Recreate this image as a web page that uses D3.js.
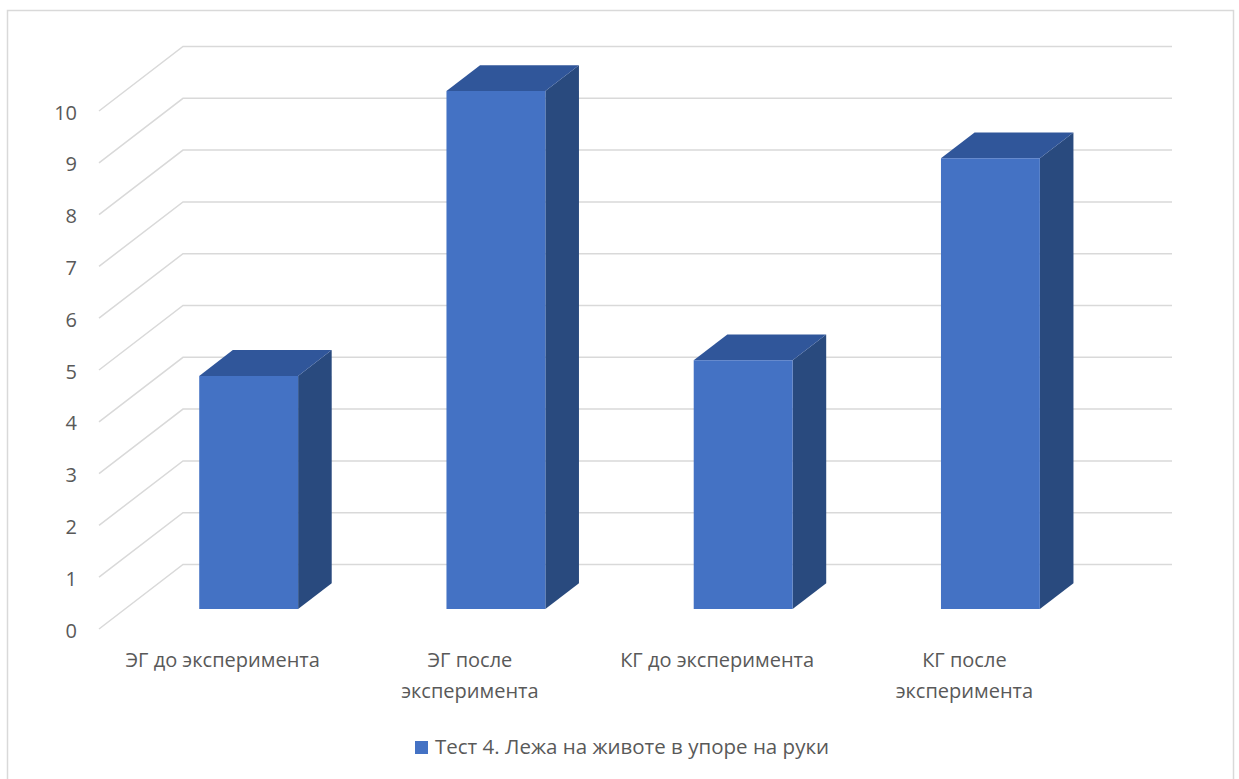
<!DOCTYPE html>
<html><head><meta charset="utf-8">
<script src="https://cdn.jsdelivr.net/npm/d3@7"></script>
<style>
html,body{margin:0;padding:0;background:#fff;}
svg{display:block;font-family:"Open Sans","Noto Sans",sans-serif;}
</style></head>
<body>
<script>
const categories = ["ЭГ до эксперимента","ЭГ после эксперимента","КГ до эксперимента","КГ после эксперимента"];
const categoryLines = [["ЭГ до эксперимента"],["ЭГ после","эксперимента"],["КГ до эксперимента"],["КГ после","эксперимента"]];
const values = [4.5, 10, 4.8, 8.7];
const yTicks = [0,1,2,3,4,5,6,7,8,9,10];
const seriesName = "Тест 4. Лежа на животе в упоре на руки";

const W = 1239, H = 779;
const svg = d3.select("body").append("svg").attr("width", W).attr("height", H);

svg.append("rect").attr("x",7.5).attr("y",10.5).attr("width",1226).attr("height",780)
  .attr("fill","#fff").attr("stroke","#D9D9D9").attr("stroke-width",1.5);

const DX = 84, DY = 64.5;
const y = d3.scaleLinear().domain([0,10]).range([629,111]);
const x = d3.scaleBand().domain(categories).range([99,1088]).paddingInner(0.6).paddingOuter(0.3);
const P = (px, v, d) => [px + d*DX, y(v) - d*DY];

// gridlines
const grid = svg.append("g");
yTicks.forEach(t => {
  const a = P(99, t, 0), b = P(99, t, 1), c = [1172, b[1]];
  grid.append("path").attr("d", d3.line()([a,b,c]))
    .attr("fill","none").attr("stroke","#D9D9D9").attr("stroke-width",1.5);
});

// y axis labels
const ax = svg.append("g").attr("transform","translate(82,0)")
  .call(d3.axisLeft(y).tickValues(yTicks).tickSize(0).tickPadding(5).tickFormat(d3.format("d")));
ax.select(".domain").remove();
ax.selectAll("text").attr("fill","#595959").attr("dy","0.4em")
  .style("font-size","20px").style("font-family","'Open Sans',sans-serif");

// bars
const d0 = 0.31, d1 = 0.71;
const bars = svg.append("g");
categories.forEach((c,i) => {
  const v = values[i];
  const xl = x(c), xr = x(c) + x.bandwidth();
  const line = d3.line();
  bars.append("path").attr("d", line([P(xr,0,d0),P(xr,0,d1),P(xr,v,d1),P(xr,v,d0)])+"Z").attr("fill","#294A7E");
  bars.append("path").attr("d", line([P(xl,v,d0),P(xr,v,d0),P(xr,v,d1),P(xl,v,d1)])+"Z").attr("fill","#30569A");
  bars.append("path").attr("d", line([P(xl,0,d0),P(xr,0,d0),P(xr,v,d0),P(xl,v,d0)])+"Z").attr("fill","#4472C4");
});

// category labels
const cl = svg.append("g");
categories.forEach((c,i) => {
  const cx = x(c) + x.bandwidth()/2;
  categoryLines[i].forEach((ln,j) => {
    cl.append("text").attr("x",cx).attr("y",667 + j*31).attr("text-anchor","middle")
      .attr("fill","#595959").style("font-size","20px").text(ln);
  });
});

// legend
const lg = svg.append("g");
lg.append("rect").attr("x",415).attr("y",741).attr("width",13).attr("height",13).attr("fill","#4472C4");
lg.append("text").attr("x",435).attr("y",754).attr("fill","#595959").style("font-size","20.5px").text(seriesName);
</script>
</body></html>
